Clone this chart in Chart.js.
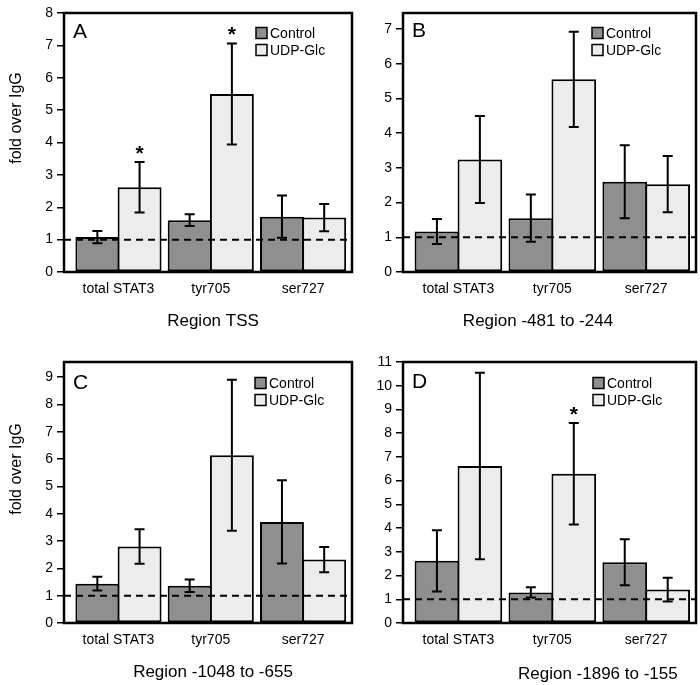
<!DOCTYPE html>
<html>
<head>
<meta charset="utf-8">
<script src="https://cdn.jsdelivr.net/npm/chart.js@4.4.1/dist/chart.umd.min.js"></script>
<style>
  body { margin: 0; background: #fff; width: 700px; height: 685px; position: relative; overflow: hidden; }
  canvas { position: absolute; }
</style>
</head>
<body>
<canvas id="pA"></canvas>
<canvas id="pB"></canvas>
<canvas id="pC"></canvas>
<canvas id="pD"></canvas>
<script>
const categories = ["total STAT3", "tyr705", "ser727"];
const seriesNames = ["Control", "UDP-Glc"];
const panelLetters = ["A", "B", "C", "D"];
const regionTitles = ["Region TSS", "Region -481 to -244", "Region -1048 to -655", "Region -1896 to -155"];
const yTitle = "fold over IgG";
const yMax = [8, 7.46, 9.55, 11];

// one row per panel (A, B, C, D), one value per category
const controlMeans = [[1.08, 1.60, 1.71], [1.17, 1.55, 2.60], [1.44, 1.36, 3.70], [2.62, 1.29, 2.56]];
const controlErrors = [[0.19, 0.18, 0.65], [0.36, 0.68, 1.05], [0.25, 0.23, 1.52], [1.29, 0.22, 0.97]];
const udpMeans = [[2.62, 5.50, 1.68], [3.24, 5.55, 2.53], [2.80, 6.14, 2.32], [6.62, 6.29, 1.41]];
const udpErrors = [[0.78, 1.56, 0.42], [1.25, 1.37, 0.81], [0.63, 2.76, 0.46], [3.93, 2.14, 0.50]];
const udpSignificant = [[true, true, false], [false, false, false], [false, false, false], [false, true, false]];

const FONT = "'Liberation Sans', Arial, Helvetica, sans-serif";
const colors = ["#8f8f8f", "#ececec"];

// page geometry of each panel
const panels = [
  {id: "pA", cx: 0, cy: 0, cw: 360, ch: 343, area: [64, 13, 352, 272], letter: [73, 32], legend: [256, 33], title: [213, 321, "center"], yt: 118},
  {id: "pB", cx: 355, cy: 0, cw: 345, ch: 343, area: [403, 13, 696, 272], letter: [412, 31], legend: [592, 33], title: [538, 321, "center"]},
  {id: "pC", cx: 0, cy: 343, cw: 360, ch: 342, area: [64, 362, 352, 623], letter: [73, 383], legend: [255, 383], title: [213, 672, "center"], yt: 469},
  {id: "pD", cx: 355, cy: 343, cw: 345, ch: 342, area: [403, 362, 696, 623], letter: [412, 382], legend: [593, 383], title: [518, 674, "left"], clip: 677}
];

const deco = {
  id: "deco",
  afterDatasetsDraw(chart) {
    const i = chart.options.plugins.deco.index;
    const ctx = chart.ctx, ca = chart.chartArea, y = chart.scales.y;
    ctx.save();
    // dashed reference line at 1
    ctx.strokeStyle = "#000";
    ctx.lineWidth = 2;
    ctx.setLineDash([7, 5]);
    ctx.beginPath();
    ctx.moveTo(ca.left, y.getPixelForValue(1));
    ctx.lineTo(ca.right, y.getPixelForValue(1));
    ctx.stroke();
    ctx.setLineDash([]);
    // error bars
    const errs = [controlErrors[i], udpErrors[i]];
    const means = [controlMeans[i], udpMeans[i]];
    [0, 1].forEach(d => {
      chart.getDatasetMeta(d).data.forEach((bar, j) => {
        const top = y.getPixelForValue(means[d][j] + errs[d][j]);
        const bot = y.getPixelForValue(means[d][j] - errs[d][j]);
        ctx.beginPath();
        ctx.moveTo(bar.x, top); ctx.lineTo(bar.x, bot);
        ctx.moveTo(bar.x - 5, top); ctx.lineTo(bar.x + 5, top);
        ctx.moveTo(bar.x - 5, bot); ctx.lineTo(bar.x + 5, bot);
        ctx.stroke();
        if (d === 1 && udpSignificant[i][j]) {
          ctx.fillStyle = "#000";
          ctx.font = "bold 21px " + FONT;
          ctx.textAlign = "center";
          ctx.textBaseline = "alphabetic";
          ctx.fillText("*", bar.x, top - 14 + 12);
        }
      });
    });
    ctx.restore();
  },
  afterDraw(chart) {
    const p = chart.options.plugins.deco.panel;
    const i = chart.options.plugins.deco.index;
    const ctx = chart.ctx, ca = chart.chartArea;
    ctx.save();
    ctx.strokeStyle = "#000";
    ctx.lineWidth = 2.5;
    ctx.strokeRect(ca.left, ca.top, ca.right - ca.left, ca.bottom - ca.top);
    ctx.fillStyle = "#000";
    // panel letter
    ctx.font = "21px " + FONT;
    ctx.textAlign = "left";
    ctx.textBaseline = "middle";
    ctx.fillText(panelLetters[i], p.letter[0] - p.cx, p.letter[1] - p.cy);
    // legend
    ctx.font = "14px " + FONT;
    seriesNames.forEach((name, k) => {
      const lx = p.legend[0] - p.cx, ly = p.legend[1] - p.cy + k * 17;
      ctx.fillStyle = colors[k];
      ctx.fillRect(lx, ly - 5.5, 11, 11);
      ctx.lineWidth = 1.5;
      ctx.strokeRect(lx, ly - 5.5, 11, 11);
      ctx.fillStyle = "#000";
      ctx.fillText(name, lx + 14, ly + 1);
    });
    // region title
    ctx.font = "17px " + FONT;
    ctx.textAlign = p.title[2];
    if (p.clip) {
      ctx.beginPath();
      ctx.rect(0, 0, p.clip - p.cx, p.ch);
      ctx.clip();
    }
    ctx.fillText(regionTitles[i], p.title[0] - p.cx, p.title[1] - p.cy);
    // y axis title
    if (p.yt) {
      ctx.save();
      ctx.translate(17 - p.cx, p.yt - p.cy);
      ctx.rotate(-Math.PI / 2);
      ctx.font = "16px " + FONT;
      ctx.textAlign = "center";
      ctx.fillText(yTitle, 0, 0);
      ctx.restore();
    }
    ctx.restore();
  }
};

panels.forEach((p, i) => {
  const cv = document.getElementById(p.id);
  cv.width = p.cw; cv.height = p.ch;
  cv.style.left = p.cx + "px"; cv.style.top = p.cy + "px";
  const [aL, aT, aR, aB] = p.area;
  new Chart(cv, {
    type: "bar",
    data: {
      datasets: [
        {label: seriesNames[0], data: controlMeans[i].map((v, j) => ({x: j, y: v})), backgroundColor: colors[0]},
        {label: seriesNames[1], data: udpMeans[i].map((v, j) => ({x: j, y: v})), backgroundColor: colors[1]}
      ]
    },
    options: {
      responsive: false,
      animation: false,
      devicePixelRatio: 1,
      layout: {padding: {left: 0, top: aT - p.cy, right: p.cx + p.cw - aR, bottom: 0}},
      datasets: {bar: {borderColor: "#000", borderWidth: 2, categoryPercentage: 0.915, barPercentage: 1.04, borderSkipped: false}},
      plugins: {legend: {display: false}, tooltip: {enabled: false}, deco: {panel: p, index: i}},
      scales: {
        x: {
          type: "linear", min: -0.59, max: 2.53, offset: false,
          afterBuildTicks: s => { s.ticks = categories.map((c, j) => ({value: j})); },
          afterFit: s => { s.height = p.cy + p.ch - aB; },
          grid: {display: false, drawTicks: false, offset: false},
          border: {display: false},
          ticks: {autoSkip: false, maxRotation: 0, padding: 9, color: "#000", font: {family: FONT, size: 14}, callback: v => categories[v]}
        },
        y: {
          min: 0, max: yMax[i],
          afterFit: s => { s.width = aL - p.cx; },
          grid: {drawOnChartArea: false, tickLength: 7, color: "#000", lineWidth: 1.5},
          border: {display: false},
          ticks: {stepSize: 1, includeBounds: false, padding: 4, color: "#000", font: {family: FONT, size: 14}}
        }
      }
    },
    plugins: [deco]
  });
});
</script>
</body>
</html>
